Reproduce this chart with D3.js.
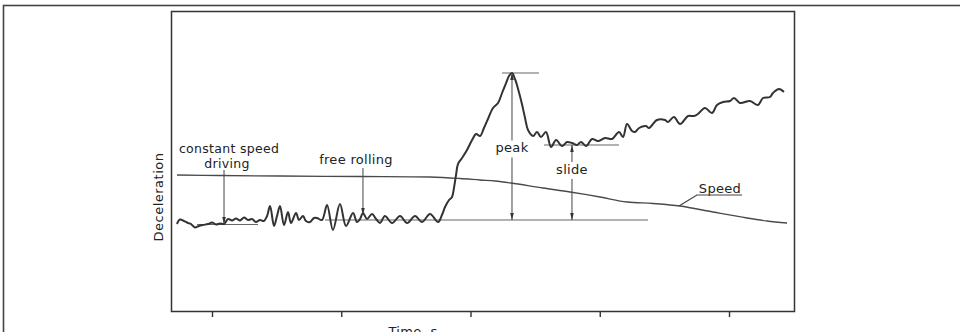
<!DOCTYPE html>
<html><head><meta charset="utf-8">
<script src="https://cdn.jsdelivr.net/npm/d3@7"></script>
<style>
body{margin:0;background:#fff}
svg{display:block}
text{font-family:"DejaVu Sans",sans-serif;fill:#222}
</style>
</head><body>
<svg id="c" width="960" height="332"></svg>
<script>
// Deceleration trace (time in s, deceleration in arbitrary units)
const decelTime = [0.729,0.752,0.783,0.814,0.838,0.868,0.899,0.930,0.969,1.000,1.031,1.062,1.093,1.124,1.155,1.186,1.217,1.248,1.279,1.309,1.340,1.371,1.402,1.426,1.449,1.480,1.503,1.526,1.557,1.588,1.611,1.650,1.673,1.704,1.727,1.758,1.789,1.812,1.851,1.890,1.936,1.990,2.037,2.091,2.122,2.145,2.168,2.199,2.238,2.269,2.300,2.338,2.393,2.455,2.509,2.571,2.625,2.687,2.749,2.779,2.803,2.834,2.857,2.872,2.888,2.903,2.934,2.973,3.012,3.043,3.074,3.104,3.135,3.174,3.213,3.244,3.275,3.298,3.321,3.344,3.368,3.398,3.422,3.445,3.484,3.515,3.545,3.584,3.623,3.662,3.708,3.747,3.785,3.824,3.855,3.894,3.940,3.986,4.041,4.095,4.149,4.180,4.211,4.250,4.273,4.304,4.358,4.381,4.443,4.505,4.528,4.574,4.621,4.683,4.729,4.760,4.814,4.868,4.907,4.954,5.008,5.039,5.085,5.162,5.224,5.263,5.317,5.340,5.387,5.425];
const decelValue = [2.933,3.083,3.033,2.967,2.933,2.817,2.867,2.900,2.933,2.983,2.917,2.950,2.933,3.100,3.050,3.117,3.050,3.150,3.067,3.100,3.000,3.067,3.033,3.200,3.533,2.867,3.200,3.533,2.900,3.333,2.967,3.300,3.067,3.200,3.033,3.000,3.133,3.133,3.067,3.567,2.733,3.600,2.867,3.300,3.000,3.100,3.300,3.100,3.267,3.100,2.967,3.200,2.967,3.200,2.967,3.200,3.000,3.267,3.000,3.233,3.500,3.733,3.833,4.133,4.567,4.933,5.133,5.400,5.733,5.933,5.867,6.133,6.433,6.800,6.967,7.300,7.633,7.867,7.967,7.767,7.433,6.933,6.467,6.067,5.867,6.000,5.833,6.000,5.500,5.733,5.533,5.667,5.633,5.567,5.667,5.533,5.767,5.700,5.800,5.767,6.000,5.833,6.267,6.033,6.000,6.133,6.200,6.133,6.400,6.400,6.333,6.500,6.267,6.533,6.533,6.600,6.800,6.633,6.900,7.000,7.033,7.133,6.967,7.033,6.900,7.133,7.167,7.300,7.433,7.333];
// Speed curve
const speedTime = [0.729,1.062,1.526,2.145,2.687,2.919,3.074,3.190,3.313,3.561,3.770,4.002,4.211,4.412,4.621,4.876,5.139,5.294,5.449];
const speedValue = [4.567,4.550,4.533,4.517,4.500,4.450,4.400,4.367,4.300,4.133,4.000,3.833,3.667,3.617,3.533,3.333,3.133,3.033,2.967];
// Time axis ticks (s)
const tickTimes = [1,2,3,4,5];
// Reference levels (horizontal thin lines)
const levelValue = [2.917, 3.067, 7.967, 5.567];
const levelStart = [0.884, 1.874, 3.244, 3.569];
const levelEnd   = [1.356, 4.373, 3.530, 4.149];
// Annotation arrows
const arrowTime   = [1.093, 2.168, 3.321, 3.785];
const arrowTop    = [4.733, 4.800, 7.967, 5.567];
const arrowBottom = [2.933, 3.233, 3.067, 3.067];
const arrowDouble = [false, false, true, true];
// Annotation labels
const labelLines = [["constant speed","driving"],["free rolling"],["peak"],["slide"]];
const labelTime  = [1.132, 2.114, 3.321, 3.785];
const labelBase  = [[5.300,4.800],[4.933],[5.317],[4.600]];
const speedLabel = "Speed";
const speedLabelTime = 4.930, speedLabelValue = 3.957;
const speedLeader = [[4.613,3.533],[4.752,3.900],[5.101,3.900]];

const svg = d3.select("#c");
const x = d3.scaleLinear().domain([0.6828, 5.5028]).range([171, 794]);
const y = d3.scaleLinear().domain([0, 10]).range([312, 12]);

// outer frame
svg.append("rect").attr("x",3.5).attr("y",5.5).attr("width",1000).attr("height",400)
  .attr("fill","none").attr("stroke","#444").attr("stroke-width",1.6);

// plot frame
svg.append("rect").attr("x",x.range()[0]+0.5).attr("y",y.range()[1]-0.5)
  .attr("width",x.range()[1]-x.range()[0]).attr("height",y.range()[0]-y.range()[1])
  .attr("fill","none").attr("stroke","#333").attr("stroke-width",1.5);

// ticks
const ax = svg.append("g").attr("transform",`translate(0,${y.range()[0]})`)
  .call(d3.axisBottom(x).tickValues(tickTimes).tickSizeInner(5).tickSizeOuter(0).tickFormat(""));
ax.select(".domain").remove();
ax.selectAll("line").attr("stroke","#333").attr("stroke-width",1.4);

// axis labels
svg.append("text").attr("x",x(2.555)).attr("y",336).attr("text-anchor","middle")
  .attr("font-size",13).attr("letter-spacing",0.3).text("Time, s");
svg.append("text").attr("transform","translate(163,197) rotate(-90)").attr("text-anchor","middle")
  .attr("font-size",13).attr("letter-spacing",0.5).text("Deceleration");

// reference lines
levelValue.forEach((v,i)=>{
  svg.append("line").attr("x1",x(levelStart[i])).attr("x2",x(levelEnd[i]))
    .attr("y1",y(v)).attr("y2",y(v)).attr("stroke","#666").attr("stroke-width",1);
});

// speed curve
const line = d3.line().curve(d3.curveCatmullRom.alpha(0.5));
svg.append("path").attr("d", line(speedTime.map((t,i)=>[x(t),y(speedValue[i])])))
  .attr("fill","none").attr("stroke","#4a4a4a").attr("stroke-width",1.3);

// deceleration trace
svg.append("path").attr("d", line(decelTime.map((t,i)=>[x(t),y(decelValue[i])])))
  .attr("fill","none").attr("stroke","#333").attr("stroke-width",2).attr("stroke-linejoin","round");

// arrows
function head(px,py,dir){ // dir: +1 pointing down, -1 pointing up
  const L=7, w=1.8;
  svg.append("path").attr("d",`M${px},${py}L${px-w},${py-dir*L}L${px+w},${py-dir*L}Z`).attr("fill","#333");
}
arrowTime.forEach((t,i)=>{
  const px = x(t), yt = y(arrowTop[i]), yb = y(arrowBottom[i]);
  let segs = [[yt,yb]];
  if (i>=2) { // gap around label
    const base = y(labelBase[i][0]);
    segs = [[yt, base-12],[base+5, yb]];
  }
  segs.forEach(s=>svg.append("line").attr("x1",px).attr("x2",px).attr("y1",s[0]).attr("y2",s[1])
    .attr("stroke","#444").attr("stroke-width",1));
  head(px,yb,1);
  if (arrowDouble[i]) head(px,yt,-1);
});

// labels (multi-line labels as one text with tspans)
labelLines.forEach((lines,i)=>{
  const t = svg.append("text").attr("text-anchor","middle").attr("font-size",i===0?12.5:13).attr("letter-spacing",0.3);
  lines.forEach((s,j)=>{
    t.append("tspan").attr("x",x(labelTime[i]) + (i===0&&j===1?-2:0)).attr("y",y(labelBase[i][j])).text(s);
  });
});

// speed label
svg.append("text").attr("x",x(speedLabelTime)).attr("y",y(speedLabelValue))
  .attr("text-anchor","middle").attr("font-size",13).attr("letter-spacing",0.3).text(speedLabel);
svg.append("path").attr("d", d3.line()(speedLeader.map(p=>[x(p[0]),y(p[1])])))
  .attr("fill","none").attr("stroke","#444").attr("stroke-width",1.2);
</script>
</body></html>
